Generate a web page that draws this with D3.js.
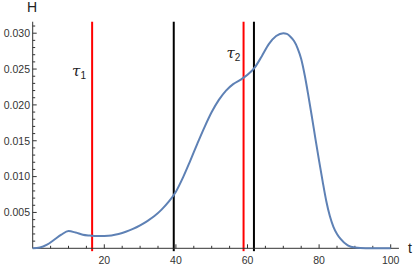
<!DOCTYPE html>
<html><head><meta charset="utf-8">
<script src="https://cdn.jsdelivr.net/npm/d3@7"></script>
<style>body{margin:0;background:#fff}svg{display:block}</style>
</head><body>
<svg id="c" width="415" height="266"></svg>
<script>
const tValues = [0,2,4,6,8,10,12,14,16,18,20,22,24,26,28,30,32,34,36,38,40,42,44,46,48,50,52,54,56,58,60,62,64,66,68,70,71,72,73,74,75,76,77,78,79,80,81,82,83,84,85,86,88,90,93,100];
const hValues = [0,0.0001,0.0005,0.0012,0.0019,0.0024,0.0022,0.0019,0.00178,0.0017,0.00172,0.0018,0.0020,0.0023,0.0027,0.0032,0.0038,0.0045,0.0054,0.0065,0.0079,0.0099,0.0122,0.0146,0.0169,0.0190,0.0207,0.0220,0.0229,0.0235,0.0242,0.0252,0.0268,0.0285,0.0296,0.0300,0.0299,0.0295,0.0289,0.0279,0.0264,0.0241,0.0213,0.0183,0.0152,0.0122,0.0093,0.0066,0.0045,0.0030,0.0020,0.0013,0.0004,0.0001,0,0];
const redLines = [16.6, 58.9];
const blackLines = [39.4, 61.8];
const tauLabels = [{sub:"1", t:11.0, h:0.0240}, {sub:"2", t:54.1, h:0.0266}];
const xTicks = [20,40,60,80,100];
const yTicks = [0.005,0.010,0.015,0.020,0.025,0.030];

const svg = d3.select("#c");
const x = d3.scaleLinear().domain([0,100]).range([32.7,390.7]);
const y = d3.scaleLinear().domain([0,0.030]).range([248.3,33.2]);
const yTop = 0.0316, yBot = -0.0004, xEnd = 102.3;
const axisCol = "#333";

svg.selectAll(".rl").data(redLines).join("line")
  .attr("x1",d=>x(d)).attr("x2",d=>x(d)).attr("y1",y(yBot)).attr("y2",y(yTop))
  .attr("stroke","#ff0000").attr("stroke-width",2);
svg.selectAll(".bl").data(blackLines).join("line")
  .attr("x1",d=>x(d)).attr("x2",d=>x(d)).attr("y1",y(yBot)).attr("y2",y(yTop))
  .attr("stroke","#000").attr("stroke-width",2);

svg.append("line").attr("x1",x(0)).attr("x2",x(xEnd)).attr("y1",y(0)).attr("y2",y(0)).attr("stroke",axisCol).attr("stroke-width",1);
svg.append("line").attr("x1",x(0)).attr("x2",x(0)).attr("y1",y(0)).attr("y2",y(yTop)).attr("stroke",axisCol).attr("stroke-width",1);

const xMinor = d3.range(5,101,5).filter(v=>v%20!==0);
svg.selectAll(".xt").data(xTicks).join("line").attr("x1",d=>x(d)).attr("x2",d=>x(d)).attr("y1",y(0)).attr("y2",y(0)-4).attr("stroke",axisCol);
svg.selectAll(".xm").data(xMinor).join("line").attr("x1",d=>x(d)).attr("x2",d=>x(d)).attr("y1",y(0)).attr("y2",y(0)-2.5).attr("stroke",axisCol);
svg.selectAll(".xl").data(xTicks).join("text").attr("x",d=>x(d)).attr("y",263.5).attr("text-anchor","middle")
  .attr("font-family","Liberation Sans, Arial, sans-serif").attr("font-size",10.5).attr("fill","#333").text(d=>d);

const yMinor = d3.range(1,32).map(v=>v/1000).filter(v=>v%0.005>1e-9 && 0.005-(v%0.005)>1e-9);
svg.selectAll(".yt").data(yTicks).join("line").attr("x1",x(0)).attr("x2",x(0)+4).attr("y1",d=>y(d)).attr("y2",d=>y(d)).attr("stroke",axisCol);
svg.selectAll(".ym").data(yMinor).join("line").attr("x1",x(0)).attr("x2",x(0)+2.5).attr("y1",d=>y(d)).attr("y2",d=>y(d)).attr("stroke",axisCol);
svg.selectAll(".yl").data(yTicks).join("text").attr("x",30).attr("y",d=>y(d)+3.8).attr("text-anchor","end")
  .attr("font-family","Liberation Sans, Arial, sans-serif").attr("font-size",10.5).attr("fill","#333").text(d=>d.toFixed(3));

svg.append("text").attr("x",32).attr("y",12).attr("text-anchor","middle").attr("font-family","Liberation Sans, Arial, sans-serif").attr("font-size",14).attr("fill","#222").text("H");
svg.append("text").attr("x",410).attr("y",253).attr("text-anchor","middle").attr("font-family","Liberation Sans, Arial, sans-serif").attr("font-size",14).attr("fill","#222").text("t");

const tl = svg.selectAll(".tau").data(tauLabels).join("text")
  .attr("x",d=>x(d.t)).attr("y",d=>y(d.h)).attr("font-family","DejaVu Serif, serif").attr("fill","#222");
tl.append("tspan").attr("font-size",15).attr("font-style","italic").text("τ");
tl.append("tspan").attr("font-size",10).attr("dy",3).attr("font-family","Liberation Sans, Arial, sans-serif").text(d=>d.sub);

const pts = tValues.map((t,i)=>[t,hValues[i]]);
svg.append("path").datum(pts)
  .attr("d", d3.line().x(d=>x(d[0])).y(d=>y(d[1])).curve(d3.curveMonotoneX))
  .attr("fill","none").attr("stroke","#5e81b5").attr("stroke-width",2);
</script>
</body></html>
